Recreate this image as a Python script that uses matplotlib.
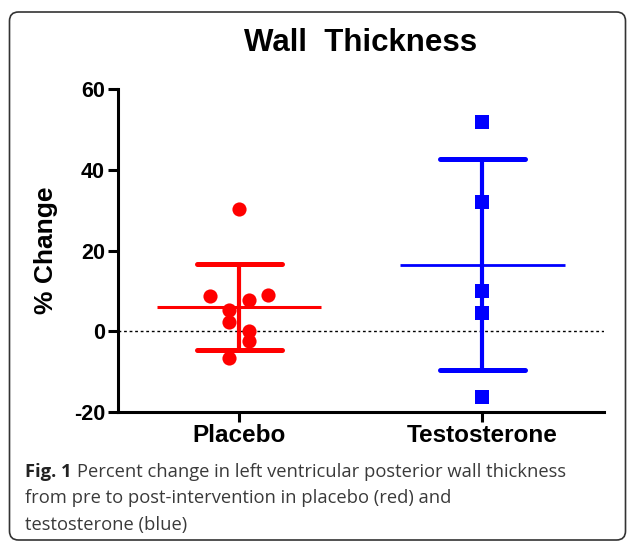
import matplotlib
matplotlib.use("Agg")
import matplotlib.pyplot as plt
from matplotlib.patches import FancyBboxPatch
from matplotlib.transforms import IdentityTransform

# ---- data ----
categories = ["Placebo", "Testosterone"]
placebo_values = [30.4, 8.8, 9.1, 7.7, 5.2, 2.4, 0.0, -2.5, -6.5]
testosterone_values = [51.9, 32.1, 10.0, 4.5, -16.2]
group_means = [6.1, 16.5]
group_sds = [10.7, 26.1]
yticks = [-20, 0, 20, 40, 60]

# ---- layout (horizontal jitter of placebo points, in category units) ----
placebo_jitter = [0.0, -0.12, 0.12, 0.041, -0.041, -0.041, 0.041, 0.041, -0.041]
testosterone_jitter = [0.0] * len(testosterone_values)

colors = ["#FF0000", "#0000FF"]
markers = ["o", "s"]

FONT = "Liberation Sans"

fig = plt.figure(figsize=(6.27, 5.42), dpi=100)
ax = fig.add_axes([0.1877, 0.2399, 0.7756, 0.5954])

ax.axhline(0, color="black", lw=1.0, ls=(0, (2, 2)), zorder=1)

series = [placebo_values, testosterone_values]
jitters = [placebo_jitter, testosterone_jitter]
for i, (vals, jit) in enumerate(zip(series, jitters)):
    c = colors[i]
    xs = [i + j for j in jit]
    m, s = group_means[i], group_sds[i]
    # mean line
    ax.plot([i - 0.338, i + 0.338], [m, m], color=c, lw=2.2 if i == 0 else 2.0,
            solid_capstyle="butt", zorder=2)
    # SD bar
    ax.plot([i, i], [m - s, m + s], color=c, lw=3.0, solid_capstyle="butt", zorder=2)
    for y in (m - s, m + s):
        ax.plot([i - 0.175, i + 0.175], [y, y], color=c, lw=3.6,
                solid_capstyle="round", zorder=2)
    ax.plot(xs, vals, ls="none", marker=markers[i], ms=10.2, color=c,
            markeredgewidth=0, zorder=3)

ax.set_xlim(-0.5, 1.5)
ax.set_ylim(-20, 60)
ax.set_xticks(range(len(categories)))
ax.set_xticklabels(categories, fontfamily=FONT, fontweight="bold", fontsize=17.5)
ax.set_yticks(yticks)
ax.set_yticklabels([str(t) for t in yticks], fontfamily=FONT, fontweight="bold", fontsize=15.5)
for sp in ("top", "right"):
    ax.spines[sp].set_visible(False)
for sp in ("left", "bottom"):
    ax.spines[sp].set_linewidth(2.2)
ax.tick_params(axis="both", direction="out", length=7.2, width=2.2, color="black")
ax.tick_params(axis="x", pad=1.5)
ax.tick_params(axis="y", pad=2.0)

# title and y label
fig.text(361 / 627, 1 - 50.7 / 542, "Wall  Thickness", ha="center", va="baseline",
         fontfamily=FONT, fontweight="bold", fontsize=22.5)
fig.text(46 / 627, 1 - 250.5 / 542, "% Change", ha="center", va="center", rotation=90,
         fontfamily=FONT, fontweight="bold", fontsize=19)

# caption
cap_color = "#3a3a3a"
cap_fs = 13.2
lines = [
    "Percent change in left ventricular posterior wall thickness",
    "from pre to post-intervention in placebo (red) and",
    "testosterone (blue)",
]
baselines = [476.7, 503.2, 529.7]
t0 = fig.text(25 / 627, 1 - baselines[0] / 542, "Fig. 1", ha="left", va="baseline",
              fontfamily="Open Sans", fontweight="bold", fontsize=cap_fs, color="#222222")
fig.canvas.draw()
bb = t0.get_window_extent()
fig.text((bb.x1 + 5) / 627, 1 - baselines[0] / 542, lines[0], ha="left", va="baseline",
         fontfamily="Open Sans", fontsize=cap_fs, color=cap_color)
for ln, b in zip(lines[1:], baselines[1:]):
    fig.text(25 / 627, 1 - b / 542, ln, ha="left", va="baseline",
             fontfamily="Open Sans", fontsize=cap_fs, color=cap_color)

# rounded frame around the figure
frame = FancyBboxPatch((9.5, 542 - 540), 616, 528,
                       boxstyle="round,pad=0,rounding_size=9",
                       transform=IdentityTransform(), fill=False,
                       edgecolor="#333333", lw=1.2)
fig.add_artist(frame)

fig.savefig("out.png", dpi=100)
